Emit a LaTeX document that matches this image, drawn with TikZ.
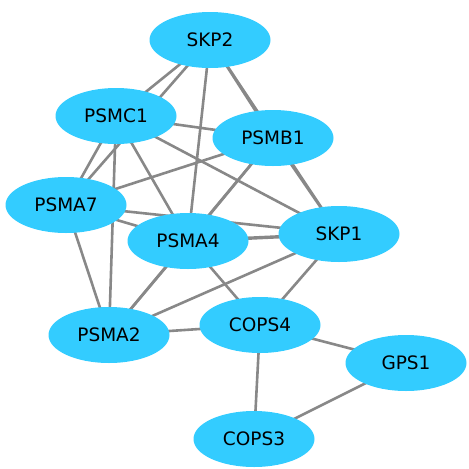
\documentclass[tikz,border=0pt]{standalone}
\usepackage{fontspec}
\setmainfont{DejaVu Sans}
\usetikzlibrary{shapes.geometric,backgrounds}
\definecolor{nodefill}{RGB}{51,204,255}
\definecolor{edgegray}{RGB}{136,136,136}
\tikzset{
  gene/.style={ellipse, fill=nodefill, minimum width=121pt, minimum height=56pt, inner sep=0pt, font=\fontsize{18.5}{21}\selectfont, text=black},
  link/.style={draw=edgegray, line width=2.6pt},
  wlink/.style={draw=edgegray, line width=3.4pt}
}
\begin{document}
\begin{tikzpicture}[x=1pt,y=-1pt]
\useasboundingbox (0,0) rectangle (469,469);
\node[gene] (SKP2) at (210,40) {SKP2};
\node[gene] (PSMC1) at (116,116) {PSMC1};
\node[gene] (PSMB1) at (273,138) {PSMB1};
\node[gene] (PSMA7) at (66,205) {PSMA7};
\node[gene] (PSMA4) at (188,241) {PSMA4};
\node[gene] (SKP1) at (339,234) {SKP1};
\node[gene] (PSMA2) at (109,335) {PSMA2};
\node[gene] (COPS4) at (260,325) {COPS4};
\node[gene] (GPS1) at (406,363) {GPS1};
\node[gene] (COPS3) at (254,439) {COPS3};
\begin{scope}[on background layer]
\draw[link] (SKP2.center) -- (PSMC1.center);
\draw[link] (SKP2.center) -- (PSMA7.center);
\draw[link] (SKP2.center) -- (PSMA4.center);
\draw[link] (SKP2.center) -- (PSMB1.center);
\draw[link] (SKP2.center) -- (SKP1.center);
\draw[link] (PSMB1.center) -- (SKP1.center);
\draw[link] (PSMC1.center) -- (PSMB1.center);
\draw[link] (PSMC1.center) -- (PSMA7.center);
\draw[link] (PSMC1.center) -- (PSMA4.center);
\draw[link] (PSMC1.center) -- (PSMA2.center);
\draw[link] (PSMC1.center) -- (SKP1.center);
\draw[link] (PSMB1.center) -- (PSMA7.center);
\draw[link] (PSMB1.center) -- (PSMA4.center);
\draw[link] (PSMB1.center) -- (PSMA2.center);
\draw[link] (PSMA7.center) -- (PSMA4.center);
\draw[link] (PSMA7.center) -- (SKP1.center);
\draw[link] (PSMA7.center) -- (PSMA2.center);
\draw[wlink] (PSMA4.center) -- (SKP1.center);
\draw[link] (PSMA4.center) -- (PSMA2.center);
\draw[link] (PSMA4.center) -- (COPS4.center);
\draw[link] (SKP1.center) -- (PSMA2.center);
\draw[link] (SKP1.center) -- (COPS4.center);
\draw[link] (PSMA2.center) -- (COPS4.center);
\draw[link] (COPS4.center) -- (GPS1.center);
\draw[link] (COPS4.center) -- (COPS3.center);
\draw[link] (COPS3.center) -- (GPS1.center);
\end{scope}
\end{tikzpicture}
\end{document}
